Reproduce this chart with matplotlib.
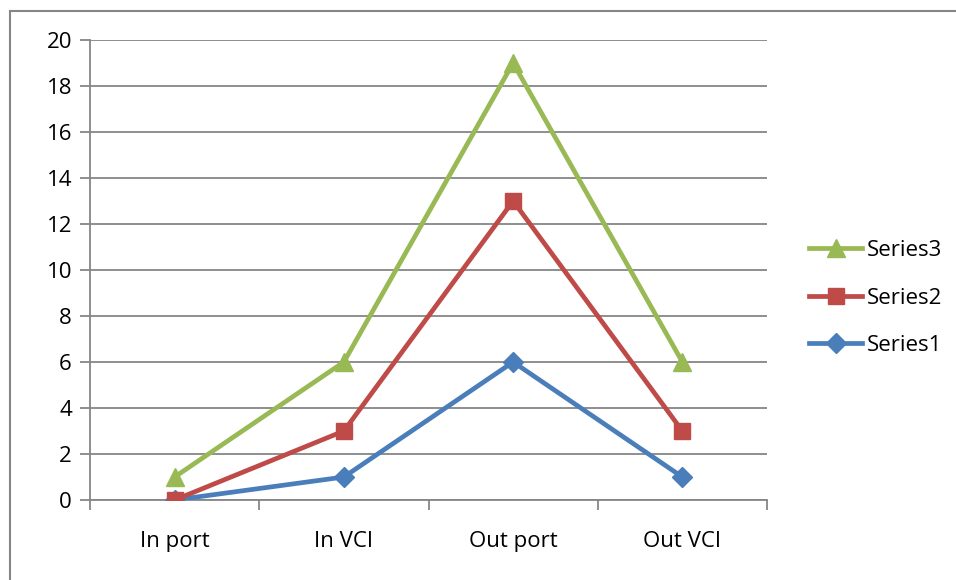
import matplotlib
matplotlib.use("Agg")
import matplotlib.pyplot as plt
from matplotlib.patches import Rectangle

plt.rcParams["font.family"] = ["Open Sans", "DejaVu Sans"]

# ── data ────────────────────────────────────────────────────────────
categories = ["In port", "In VCI", "Out port", "Out VCI"]
series1 = [0, 1, 6, 1]
series2 = [0, 3, 13, 3]
series3 = [1, 6, 19, 6]

C_BLUE = "#4a7ebb"
C_RED = "#be4b48"
C_GREEN = "#98b954"
C_GRID = "#868686"

W, H = 956, 580
fig = plt.figure(figsize=(W / 100, H / 100), dpi=100)
ax = fig.add_axes([90 / W, 80 / H, 677 / W, 460 / H])

# chart border (Excel-style chart area)
fig.patches.append(Rectangle((10 / W, -0.05), 1.2, 1 - 11 / H + 0.05,
                             transform=fig.transFigure, fill=False,
                             edgecolor=C_GRID, linewidth=1.5))

x = range(len(categories))
ax.plot(x, series1, color=C_BLUE, lw=3.4, marker="D", ms=10, label="Series1", zorder=3)
ax.plot(x, series2, color=C_RED, lw=3.4, marker="s", ms=12, label="Series2", zorder=4)
ax.plot(x, series3, color=C_GREEN, lw=3.4, marker="^", ms=13, label="Series3", zorder=2)

ax.set_xlim(-0.5, len(categories) - 0.5)
ax.set_ylim(0, 20)
ax.set_yticks(range(0, 21, 2))
ax.set_xticks(x)
ax.set_xticklabels(categories)
ax.set_xticks([i - 0.5 for i in range(len(categories) + 1)], minor=True)
ax.tick_params(axis="x", which="major", length=0, pad=22, labelsize=16)
ax.tick_params(axis="x", which="minor", length=7, width=1.3, color=C_GRID)
ax.tick_params(axis="y", length=7, width=1.3, color=C_GRID, labelsize=16, pad=6)

ax.grid(axis="y", color=C_GRID, linewidth=1.3)
ax.set_axisbelow(True)
for side in ["top", "right"]:
    ax.spines[side].set_visible(False)
for side in ["left", "bottom"]:
    ax.spines[side].set_color(C_GRID)
    ax.spines[side].set_linewidth(1.3)

handles, labels = ax.get_legend_handles_labels()
ax.legend(handles[::-1], labels[::-1], loc="center left",
          bbox_to_anchor=(800 / W, 1 - 298 / H), bbox_transform=fig.transFigure,
          frameon=False, fontsize=16, handlelength=2.4, handletextpad=0.2,
          labelspacing=1.2, borderaxespad=0)

fig.savefig("out.png", dpi=100)
